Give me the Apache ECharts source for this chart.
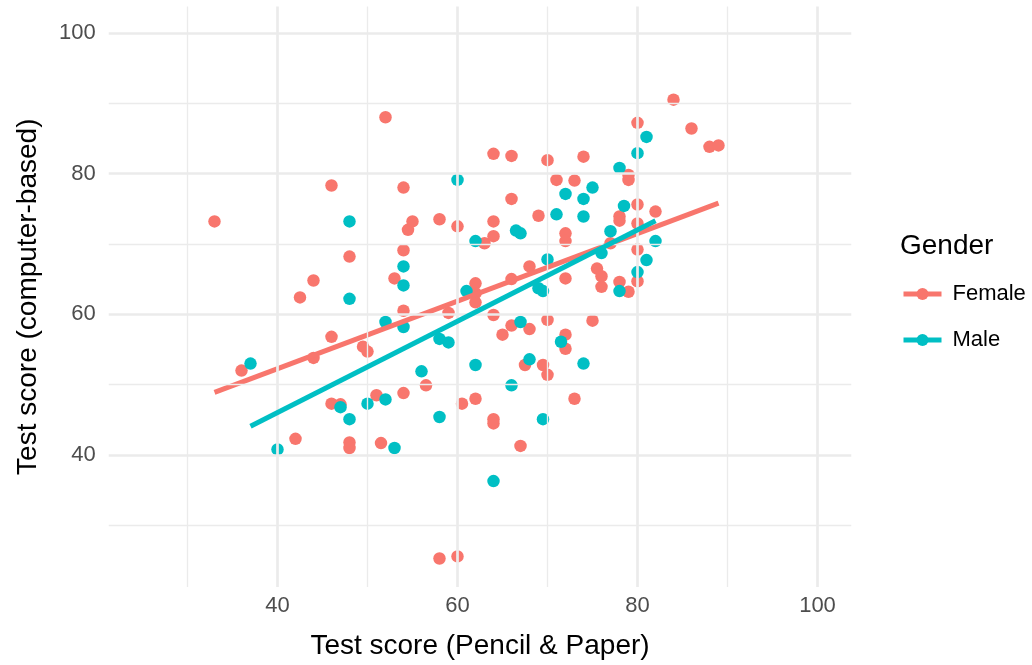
<!DOCTYPE html>
<html>
<head>
<meta charset="utf-8">
<script src="https://cdn.jsdelivr.net/npm/echarts@6/dist/echarts.min.js"></script>
<style>html,body{margin:0;padding:0;background:#fff}#c{width:1032px;height:665px}</style>
</head>
<body>
<div id="c"></div>
<script>
// Data: [Pencil & Paper, computer-based]
const femalePoints = [
  [33,73.2],[36,52.0],[42,42.3],[42.5,62.4],[44,64.8],[44,53.8],[46,78.3],[46,56.8],[46,47.3],
  [47,47.2],[48,68.2],[48,41.8],[48,41.0],[49.5,55.4],[50,54.7],[51,48.5],[51.5,41.7],[52,88.0],
  [53,65.1],[54,78.0],[54,69.1],[54,60.5],[54,48.8],[54.5,72.0],[55,73.2],[56.5,49.9],[58,73.5],
  [58,25.3],[59,60.2],[60,72.5],[60,25.6],[60.5,47.3],[62,64.4],[62,63.0],[62,61.7],[62,48.0],
  [63,70.1],[64,82.8],[64,73.2],[64,71.1],[64,59.9],[64,45.1],[64,44.5],[65,57.1],[66,82.5],
  [66,76.4],[66,65.0],[66,58.4],[67,41.3],[67.5,52.8],[68,66.8],[68,57.9],[69,74.0],[69.5,52.8],
  [70,59.2],[70,51.4],[70,81.9],[71,79.1],[72,71.5],[72,70.4],[72,65.1],[72,57.1],[72,55.1],
  [73,79.0],[73,48.0],[74,82.4],[75,59.1],[75.5,66.5],[76,65.4],[76,63.9],[77,70.1],[78,73.9],
  [78,73.3],[78,64.6],[79,79.8],[79,79.1],[79,63.2],[80,87.2],[80,75.6],[80,72.9],[80,69.2],
  [80,64.7],[82,74.6],[84,90.5],[86,86.4],[88,83.8],[89,84.0]
];
const malePoints = [
  [37,53.0],[40,40.8],[47,46.8],[48,73.2],[48,62.2],[48,45.1],[50,47.3],[52,58.9],[52,47.9],
  [53,41.0],[54,66.8],[54,64.1],[54,58.2],[56,51.9],[58,56.5],[58,45.4],[59,56.0],[60,79.1],
  [61,63.3],[62,70.4],[62,52.8],[64,36.3],[66,49.9],[66.5,71.9],[67,71.5],[67,58.9],[68,53.6],
  [69,63.7],[69.5,63.3],[69.5,45.1],[70,67.8],[71,74.2],[71.5,56.1],[72,77.1],[74,76.4],[74,73.9],
  [74,53.0],[75,78.0],[76,68.7],[77,71.8],[78,80.8],[78,63.3],[78.5,75.4],[80,82.9],[80,66.0],
  [81,85.2],[81,67.7],[82,70.4]
];
// Fitted line end points as drawn in the picture
const femaleFit = [[33,48.9],[89,75.8]];
const maleFit = [[37,44.1],[82,73.3]];
// Ticks and grid lines
const xTicks = [40,60,80,100];
const yTicks = [40,60,80,100];
const xMinor = [30,50,70,90];
const yMinor = [30,50,70,90];
const axisMin = 21.25, axisMax = 103.75;

const FONT = 'Liberation Sans, Arial, Helvetica, sans-serif';
const RED = '#F8766D', TEAL = '#00BFC4', GRID = '#ebebeb';

function gl(vals, key, w) {
  return vals.map(v => ({[key]: v, lineStyle: {width: w, color: GRID, type: 'solid'}}));
}

const chart = echarts.init(document.getElementById('c'), null, {renderer: 'canvas'});
chart.setOption({
  animation: false,
  backgroundColor: '#fff',
  title: {
    text: 'Gender', left: 895, top: 227, padding: 5,
    textStyle: {fontFamily: FONT, fontSize: 28, fontWeight: 'normal', color: '#000'}
  },
  legend: {
    data: ['Female', 'Male'], orient: 'vertical', left: 901, top: 283, padding: 0,
    itemWidth: 38, itemHeight: 15, itemGap: 24, selectedMode: false,
    lineStyle: {width: 5},
    textStyle: {fontFamily: FONT, fontSize: 22, color: '#000', padding: [0,0,0,6]}
  },
  grid: {left: 108.75, right: 180.75, top: 6.4, bottom: 74.2, containLabel: false},
  xAxis: {
    type: 'value', min: axisMin, max: axisMax,
    name: 'Test score (Pencil & Paper)', nameLocation: 'middle', nameGap: 45,
    nameTextStyle: {fontFamily: FONT, fontSize: 28, color: '#000'},
    axisLine: {show: false}, axisTick: {show: false}, splitLine: {show: false},
    axisLabel: {customValues: xTicks, fontFamily: FONT, fontSize: 22, color: '#4d4d4d', margin: 8}
  },
  yAxis: {
    type: 'value', min: axisMin, max: axisMax,
    name: 'Test score (computer-based)', nameLocation: 'middle', nameGap: 66,
    nameTextStyle: {fontFamily: FONT, fontSize: 28, color: '#000'},
    axisLine: {show: false}, axisTick: {show: false}, splitLine: {show: false},
    axisLabel: {customValues: yTicks, fontFamily: FONT, fontSize: 22, color: '#4d4d4d', margin: 13}
  },
  series: [
    {
      name: 'grid', type: 'scatter', data: [], z: 0, silent: true,
      markLine: {
        silent: true, symbol: ['none','none'], label: {show: false}, animation: false,
        data: [].concat(gl(xMinor,'xAxis',1.35), gl(yMinor,'yAxis',1.35), gl(xTicks,'xAxis',2.7), gl(yTicks,'yAxis',2.7))
      }
    },
    {name: 'Female points', type: 'scatter', data: femalePoints, symbolSize: 12.5, z: 2,
     itemStyle: {color: RED, opacity: 1}},
    {name: 'Male points', type: 'scatter', data: malePoints, symbolSize: 12.5, z: 3,
     itemStyle: {color: TEAL, opacity: 1}},
    {name: 'Female', type: 'line', data: femaleFit, z: 4, symbol: 'circle', symbolSize: 12, showSymbol: false,
     itemStyle: {color: RED}, lineStyle: {color: RED, width: 5}},
    {name: 'Male', type: 'line', data: maleFit, z: 5, symbol: 'circle', symbolSize: 12, showSymbol: false,
     itemStyle: {color: TEAL}, lineStyle: {color: TEAL, width: 5}}
  ]
});
</script>
</body>
</html>
